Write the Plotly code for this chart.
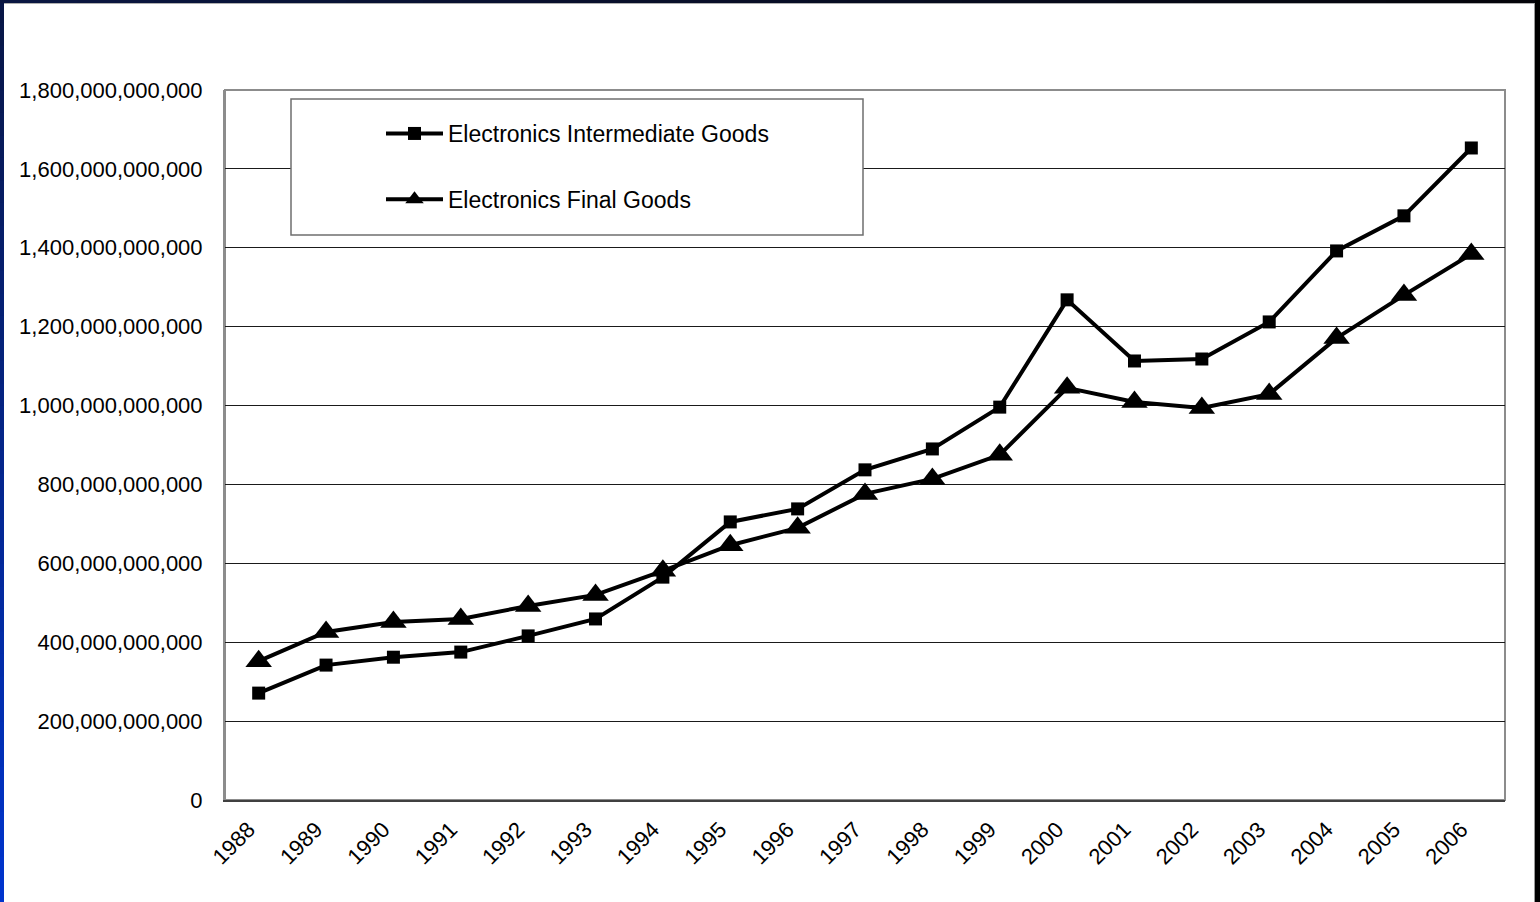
import numpy as np
import plotly.graph_objects as go

# Annual trade values, in billions of US dollars
years = ["1988", "1989", "1990", "1991", "1992", "1993", "1994", "1995", "1996", "1997",
         "1998", "1999", "2000", "2001", "2002", "2003", "2004", "2005", "2006"]
intermediate_bn = [271, 342, 362, 375, 416, 459, 565, 705, 738, 837,
                   890, 996, 1268, 1113, 1118, 1212, 1392, 1481, 1653]
final_bn = [352, 426, 451, 459, 492, 520, 581, 646, 690, 776,
            814, 875, 1045, 1009, 994, 1029, 1171, 1280, 1384]
series_names = ["Electronics Intermediate Goods", "Electronics Final Goods"]
y_ticks = [0, 200e9, 400e9, 600e9, 800e9, 1000e9, 1200e9, 1400e9, 1600e9, 1800e9]

intermediate = np.array(intermediate_bn) * 1e9
final = np.array(final_bn) * 1e9

W, H = 1540, 902
L, R, T, B = 225, 1505, 90, 800  # plot area in pixels
FONT = "Liberation Sans, Arial, sans-serif"


def px_x(p):
    return (p - L) / (R - L)


def px_y(p):
    return (B - p) / (B - T)


fig = go.Figure()
fig.add_trace(go.Scatter(
    x=years, y=intermediate, name=series_names[0], mode="lines+markers",
    line=dict(color="black", width=4),
    marker=dict(symbol="square", size=13, color="black"),
    legendgroup="a",
))
fig.add_trace(go.Scatter(
    x=years, y=final, name=series_names[1], mode="lines+markers",
    line=dict(color="black", width=4),
    marker=dict(symbol="triangle-up", size=23, color="black"),
    legendgroup="b",
))

shapes = []
# plot-area frame
shapes.append(dict(type="rect", xref="paper", yref="paper", x0=0, x1=1, y0=0, y1=1,
                   line=dict(color="#8c8c8c", width=2), fillcolor="rgba(0,0,0,0)", layer="below"))
# legend box
shapes.append(dict(type="rect", xref="paper", yref="paper",
                   x0=px_x(291), x1=px_x(863), y0=px_y(235), y1=px_y(99),
                   line=dict(color="#6f6f6f", width=1.5), fillcolor="white", layer="above"))


def mix(c1, c2, t):
    return "rgb(%d,%d,%d)" % tuple(round(a + (b - a) * t) for a, b in zip(c1, c2))


# slide frame: blue gradient on the left, dark band on top, black edge on the right
n = 40
top_c, bot_c = (8, 22, 70), (0, 52, 205)
for i in range(n):
    y0p = H * i / n
    y1p = H * (i + 1) / n + 1
    shapes.append(dict(type="rect", xref="paper", yref="paper",
                       x0=px_x(0), x1=px_x(4), y0=px_y(y1p), y1=px_y(y0p),
                       line=dict(width=0), fillcolor=mix(top_c, bot_c, i / (n - 1))))
for i in range(n):
    x0p = W * i / n
    x1p = W * (i + 1) / n + 1
    shapes.append(dict(type="rect", xref="paper", yref="paper",
                       x0=px_x(x0p), x1=px_x(x1p), y0=px_y(3), y1=px_y(0),
                       line=dict(width=0), fillcolor=mix((10, 22, 65), (5, 5, 10), i / (n - 1))))
shapes.append(dict(type="line", xref="paper", yref="paper",
                   x0=px_x(4), x1=px_x(1535), y0=px_y(3.5), y1=px_y(3.5),
                   line=dict(color="#b0b0b0", width=1)))
shapes.append(dict(type="rect", xref="paper", yref="paper",
                   x0=px_x(1535), x1=px_x(1541), y0=px_y(H), y1=px_y(0),
                   line=dict(width=0), fillcolor="black"))
shapes.append(dict(type="line", xref="paper", yref="paper",
                   x0=px_x(1534.5), x1=px_x(1534.5), y0=px_y(H), y1=px_y(3),
                   line=dict(color="#9a9a9a", width=1)))

fig.update_layout(
    width=W, height=H,
    margin=dict(l=L, r=W - R, t=T, b=H - B, pad=0),
    paper_bgcolor="white", plot_bgcolor="white",
    font=dict(family=FONT, color="black"),
    showlegend=True,
    legend=dict(
        x=px_x(381), y=px_y(112), xanchor="left", yanchor="top",
        bgcolor="rgba(0,0,0,0)", borderwidth=0,
        font=dict(family=FONT, size=23, color="black"),
        tracegroupgap=33, traceorder="grouped", itemwidth=57,
    ),
    shapes=shapes,
    xaxis=dict(
        type="category", showgrid=False, showline=True, linecolor="#404040", linewidth=2,
        ticks="", tickangle=-45, tickfont=dict(family=FONT, size=22, color="black"),
        ticklabelshift=-10, ticklabelstandoff=6,
        range=[-0.5, len(years) - 0.5], fixedrange=True,
    ),
    yaxis=dict(
        range=[0, 1.8e12], tickvals=y_ticks, tickformat=",d",
        showgrid=True, gridcolor="#1a1a1a", gridwidth=1,
        showline=True, linecolor="#8c8c8c", linewidth=2,
        zeroline=False, ticks="", ticklabelstandoff=16,
        tickfont=dict(family=FONT, size=22, color="black"), fixedrange=True,
    ),
)

fig.write_html("out.html")
